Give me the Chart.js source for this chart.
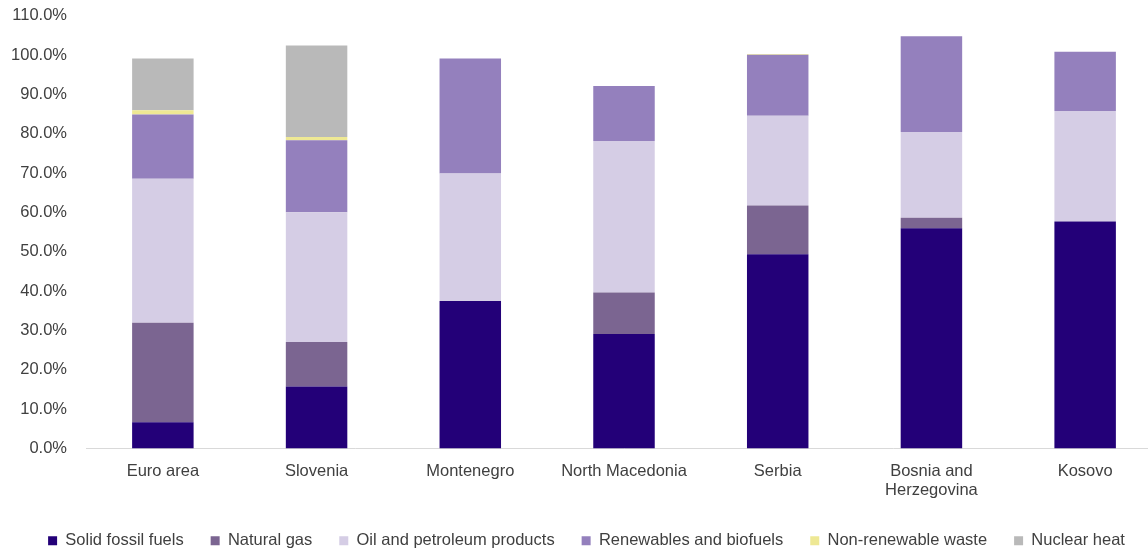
<!DOCTYPE html>
<html>
<head>
<meta charset="utf-8">
<script src="https://cdn.jsdelivr.net/npm/chart.js@4"></script>
<style>
  html, body { margin: 0; padding: 0; background: #fff; overflow: hidden; }
  #wrap { width: 1162px; height: 563px; margin-top: -13px; position: relative; }
</style>
</head>
<body>
<div id="wrap"><canvas id="grafico"></canvas></div>
<script>
// Categorías y valores (%)
const paises = ['Euro area', 'Slovenia', 'Montenegro', 'North Macedonia', 'Serbia', ['Bosnia and', 'Herzegovina'], 'Kosovo'];

const solidos     = [6.7, 15.8, 37.5, 29.1, 49.4, 56.0, 57.7];
const gasNatural  = [25.3, 11.3, 0, 10.6, 12.4, 2.7, 0];
const petroleo    = [36.6, 33.0, 32.4, 38.5, 22.8, 21.8, 28.1];
const renovables  = [16.3, 18.3, 29.3, 14.0, 15.5, 24.3, 15.1];
const residuos    = [1.1, 0.8, 0, 0, 0.2, 0, 0];
const nuclear     = [13.2, 23.3, 0, 0, 0, 0, 0];

const ticksY = { min: 0, max: 110, paso: 10 };

const series = [
  { label: 'Solid fossil fuels', data: solidos, color: '#230078' },
  { label: 'Natural gas', data: gasNatural, color: '#7b6591' },
  { label: 'Oil and petroleum products', data: petroleo, color: '#d5cde5' },
  { label: 'Renewables and biofuels', data: renovables, color: '#9480bd' },
  { label: 'Non-renewable waste', data: residuos, color: '#eee894' },
  { label: 'Nuclear heat', data: nuclear, color: '#b9b9b9' }
];

Chart.defaults.font.family = '"Liberation Sans", Arial, sans-serif';
Chart.defaults.font.size = 16.5;
Chart.defaults.color = '#404040';

const ctx = document.getElementById('grafico').getContext('2d');
new Chart(ctx, {
  type: 'bar',
  data: {
    labels: paises,
    datasets: series.map(s => ({
      label: s.label,
      data: s.data,
      backgroundColor: s.color,
      borderWidth: 0,
      barPercentage: 0.4,
      categoryPercentage: 1
    }))
  },
  options: {
    responsive: true,
    maintainAspectRatio: false,
    animation: false,
    layout: { padding: { top: 0, left: 11, right: 0, bottom: -9 } },
    plugins: {
      tooltip: { enabled: false },
      legend: {
        position: 'bottom',
        labels: { boxWidth: 9, boxHeight: 9, padding: 27, color: '#404040' }
      }
    },
    scales: {
      x: {
        stacked: true,
        grid: { display: false, drawTicks: false },
        border: { color: '#d9d9d9', width: 1 },
        afterFit: scale => { scale.height -= 7; },
        ticks: { padding: 13, color: '#404040', font: { lineHeight: 1.15 } }
      },
      y: {
        stacked: true,
        min: ticksY.min,
        max: ticksY.max,
        grid: { display: false, drawTicks: false },
        border: { display: false },
        afterFit: scale => { scale.width = 75; },
        ticks: {
          stepSize: ticksY.paso,
          padding: 19,
          color: '#404040',
          callback: v => v.toFixed(1) + '%'
        }
      }
    }
  }
});
</script>
</body>
</html>
